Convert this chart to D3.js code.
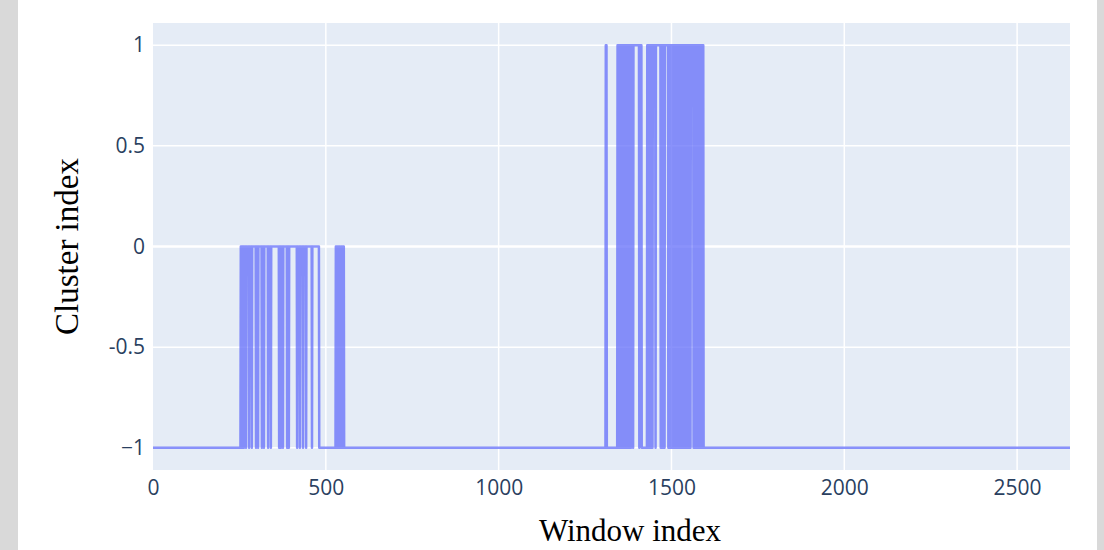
<!DOCTYPE html>
<html>
<head>
<meta charset="utf-8">
<script src="https://cdn.jsdelivr.net/npm/d3@7"></script>
<style>
  body { margin: 0; background: #fff; }
  svg { display: block; }
  .tick text { font-family: "Open Sans", sans-serif; fill: #2a3f5f; }
  .axis-title { font-family: "Liberation Serif", serif; fill: #000; }
</style>
</head>
<body>
<svg id="chart"></svg>
<script>
// number of windows in the series
var windowCount = 2654;

// window ranges (inclusive) where the cluster index is 0; everything else is -1 unless in oneRuns
var zeroRuns = [[254,257],[259,262],[264,268],[270,277],[279,285],[287,297],[299,303],[305,314],
                [316,320],[322,332],[334,340],[342,364],[366,369],[371,375],[377,387],[389,392],
                [394,416],[418,424],[426,433],[435,442],[444,459],[461,480],
                [529,531],[534,536],[539,541],[544,546],[549,552]];

// window ranges (inclusive) where the cluster index is 1
var oneRuns = [[1310,1312],
               [1344,1347],[1349,1352],[1354,1357],[1359,1362],[1364,1367],[1369,1372],[1374,1377],[1379,1382],[1384,1388],
               [1390,1406],[1408,1413],
               [1430,1432],[1434,1436],[1438,1440],[1442,1444],[1446,1453],[1455,1468],
               [1470,1472],[1474,1476],[1478,1479],[1481,1490],
               [1492,1494],[1496,1498],[1500,1502],[1504,1506],[1508,1510],[1512,1514],[1516,1518],[1520,1522],
               [1524,1526],[1528,1530],[1532,1534],[1536,1538],[1540,1542],[1544,1546],[1548,1550],[1552,1554],
               [1556,1563],
               [1565,1567],[1569,1571],[1573,1575],[1577,1579],[1581,1583],[1585,1587],[1589,1592]];

var xTicks = [0, 500, 1000, 1500, 2000, 2500];
var yTicks = [-1, -0.5, 0, 0.5, 1];
var yTickLabels = ["\u22121", "-0.5", "0", "0.5", "1"];

// build the per-window series from the runs
var data = [];
for (var i = 0; i < windowCount; i++) data.push({w: i, c: -1});
zeroRuns.forEach(function(r){ for (var i = r[0]; i <= r[1]; i++) data[i].c = 0; });
oneRuns.forEach(function(r){ for (var i = r[0]; i <= r[1]; i++) data[i].c = 1; });

var W = 1104, H = 550;
var margin = {top: 23, right: 34, bottom: 80, left: 153},
    width = 1070 - margin.left,
    height = 470 - margin.top;

var svg = d3.select('#chart').attr('width', W).attr('height', H);

// grey frame at the sides
svg.append('rect').attr('x', 0).attr('y', 0).attr('width', 18).attr('height', H).attr('fill', '#d9d9d9');
svg.append('rect').attr('x', 1097).attr('y', 0).attr('width', W - 1097).attr('height', H).attr('fill', '#d9d9d9');

var x = d3.scaleLinear().domain([0, windowCount - 1]).range([0, width]);
var y = d3.scaleLinear().domain([-1.11, 1.11]).range([height, 0]);

var g = svg.append('g').attr('transform', 'translate(' + margin.left + ',' + margin.top + ')');

g.append('rect').attr('width', width).attr('height', height).attr('fill', '#e5ecf6');

// gridlines
g.selectAll('.xgrid').data(xTicks.slice(1)).enter().append('line')
  .attr('x1', function(d){return x(d);}).attr('x2', function(d){return x(d);})
  .attr('y1', 0).attr('y2', height)
  .attr('stroke', '#fff').attr('stroke-width', 1.5);
g.selectAll('.ygrid').data(yTicks).enter().append('line')
  .attr('x1', 0).attr('x2', width)
  .attr('y1', function(d){return y(d);}).attr('y2', function(d){return y(d);})
  .attr('stroke', '#fff').attr('stroke-width', function(d){return d === 0 ? 2.5 : 1.5;});

// series
var line = d3.line()
  .x(function(d){return x(d.w);})
  .y(function(d){return y(d.c);});

g.append('path').attr('d', line(data))
  .attr('fill', 'none')
  .attr('stroke', '#636efa')
  .attr('stroke-opacity', 0.75)
  .attr('stroke-width', 2.5)
  .attr('stroke-linejoin', 'round');

// axes
var xAxis = d3.axisBottom(x).tickValues(xTicks).tickSize(0).tickPadding(10)
  .tickFormat(d3.format('d'));
var yAxis = d3.axisLeft(y).tickValues(yTicks).tickSize(0).tickPadding(8)
  .tickFormat(function(d, i){return yTickLabels[i];});

var gx = g.append('g').attr('transform', 'translate(0,' + height + ')').call(xAxis);
var gy = g.append('g').call(yAxis);
[gx, gy].forEach(function(a){
  a.select('.domain').remove();
  a.selectAll('.tick text').style('font-size', '21px');
});

svg.append('text').attr('class', 'axis-title')
  .attr('text-anchor', 'middle')
  .attr('x', 630).attr('y', 541)
  .style('font-size', '31px')
  .text('Window index');

svg.append('text').attr('class', 'axis-title')
  .attr('text-anchor', 'middle')
  .attr('transform', 'translate(78,' + (margin.top + y(0)) + ') rotate(-90)')
  .style('font-size', '33px')
  .text('Cluster index');
</script>
</body>
</html>
